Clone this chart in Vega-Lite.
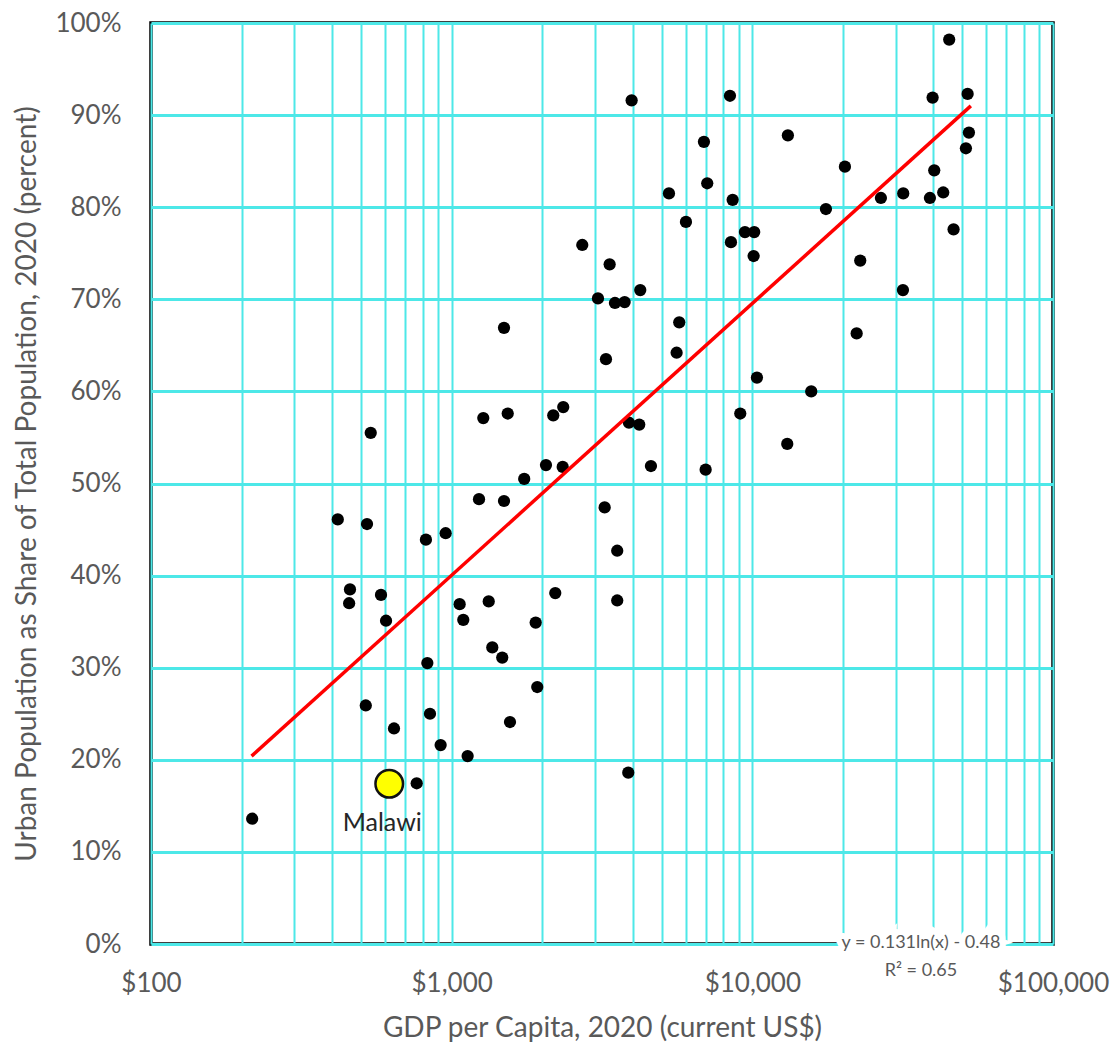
{
  "$schema": "https://vega.github.io/schema/vega-lite/v6.json",
  "width": 902,
  "height": 921,
  "autosize": {"type": "none"},
  "padding": {"left": 151, "top": 23, "right": 61, "bottom": 103},
  "background": "white",
  "config": {
    "font": "Lato",
    "view": {"stroke": "#000000", "strokeWidth": 3.5, "strokeOpacity": 1},
    "axis": {
      "gridColor": "#4DE8E8",
      "gridOpacity": 1,
      "ticks": false,
      "domain": false,
      "labelColor": "#595959",
      "labelFontSize": 26,
      "labelFont": "Lato",
      "titleColor": "#595959",
      "titleFont": "Lato",
      "titleFontWeight": "normal",
      "labelOverlap": false,
      "labelFlush": false
    }
  },
  "datasets": {
    "countries": [
      {"gdp": 217, "share": 0.136},
      {"gdp": 620, "share": 0.174, "country": "Malawi"},
      {"gdp": 765, "share": 0.1745},
      {"gdp": 1130, "share": 0.204},
      {"gdp": 919, "share": 0.216},
      {"gdp": 643, "share": 0.234},
      {"gdp": 847, "share": 0.25},
      {"gdp": 1563, "share": 0.241},
      {"gdp": 518, "share": 0.259},
      {"gdp": 1926, "share": 0.279},
      {"gdp": 830, "share": 0.305},
      {"gdp": 1473, "share": 0.311},
      {"gdp": 1365, "share": 0.322},
      {"gdp": 1903, "share": 0.349},
      {"gdp": 605, "share": 0.351},
      {"gdp": 1093, "share": 0.352},
      {"gdp": 456, "share": 0.37},
      {"gdp": 1063, "share": 0.369},
      {"gdp": 1328, "share": 0.372},
      {"gdp": 459, "share": 0.385},
      {"gdp": 582, "share": 0.379},
      {"gdp": 2211, "share": 0.381},
      {"gdp": 821, "share": 0.439},
      {"gdp": 955, "share": 0.446},
      {"gdp": 418, "share": 0.461},
      {"gdp": 523, "share": 0.456},
      {"gdp": 1233, "share": 0.483},
      {"gdp": 1493, "share": 0.481},
      {"gdp": 1743, "share": 0.505},
      {"gdp": 2059, "share": 0.52},
      {"gdp": 2340, "share": 0.518},
      {"gdp": 3227, "share": 0.474},
      {"gdp": 3553, "share": 0.427},
      {"gdp": 3553, "share": 0.373},
      {"gdp": 3867, "share": 0.186},
      {"gdp": 2719, "share": 0.759},
      {"gdp": 1493, "share": 0.669},
      {"gdp": 1274, "share": 0.571},
      {"gdp": 1536, "share": 0.576},
      {"gdp": 2177, "share": 0.574},
      {"gdp": 2350, "share": 0.583},
      {"gdp": 538, "share": 0.555},
      {"gdp": 3968, "share": 0.916},
      {"gdp": 8425, "share": 0.921},
      {"gdp": 45160, "share": 0.982},
      {"gdp": 39770, "share": 0.919},
      {"gdp": 52000, "share": 0.923},
      {"gdp": 6903, "share": 0.871},
      {"gdp": 13130, "share": 0.878},
      {"gdp": 52530, "share": 0.881},
      {"gdp": 51330, "share": 0.864},
      {"gdp": 7079, "share": 0.826},
      {"gdp": 20320, "share": 0.844},
      {"gdp": 40270, "share": 0.84},
      {"gdp": 5281, "share": 0.815},
      {"gdp": 8600, "share": 0.808},
      {"gdp": 26770, "share": 0.81},
      {"gdp": 31760, "share": 0.815},
      {"gdp": 38960, "share": 0.81},
      {"gdp": 43140, "share": 0.816},
      {"gdp": 17570, "share": 0.798},
      {"gdp": 6015, "share": 0.784},
      {"gdp": 46700, "share": 0.776},
      {"gdp": 9450, "share": 0.773},
      {"gdp": 10146, "share": 0.773},
      {"gdp": 8489, "share": 0.762},
      {"gdp": 10099, "share": 0.747},
      {"gdp": 22850, "share": 0.742},
      {"gdp": 3353, "share": 0.738},
      {"gdp": 31690, "share": 0.71},
      {"gdp": 4239, "share": 0.71},
      {"gdp": 3066, "share": 0.701},
      {"gdp": 3492, "share": 0.696},
      {"gdp": 3761, "share": 0.697},
      {"gdp": 5713, "share": 0.675},
      {"gdp": 3260, "share": 0.635},
      {"gdp": 5600, "share": 0.642},
      {"gdp": 22230, "share": 0.663},
      {"gdp": 10359, "share": 0.615},
      {"gdp": 15700, "share": 0.6},
      {"gdp": 9117, "share": 0.576},
      {"gdp": 3887, "share": 0.566},
      {"gdp": 4206, "share": 0.564},
      {"gdp": 13065, "share": 0.543},
      {"gdp": 4600, "share": 0.519},
      {"gdp": 6994, "share": 0.515}
    ],
    "trend": [
      {"gdp": 216, "share": 0.204},
      {"gdp": 53300, "share": 0.91}
    ],
    "notes": [
      {"gdp": 36370, "share": 0.0014, "label": "y = 0.131ln(x) - 0.48"},
      {"gdp": 36370, "share": -0.029, "label": "R² = 0.65"}
    ]
  },
  "layer": [
    {
      "data": {"name": "countries"},
      "transform": [{"filter": "datum.country !== 'Malawi'"}],
      "mark": {"type": "point", "filled": true, "color": "#000000", "size": 150, "opacity": 1},
      "encoding": {
        "x": {
          "field": "gdp",
          "type": "quantitative",
          "scale": {"type": "log", "domain": [100, 100000], "nice": false},
          "axis": {
            "values": [100, 200, 300, 400, 500, 600, 700, 800, 900, 1000, 2000, 3000, 4000, 5000, 6000, 7000, 8000, 9000, 10000, 20000, 30000, 40000, 50000, 60000, 70000, 80000, 90000, 100000],
            "labelExpr": "(datum.value == 100 || datum.value == 1000 || datum.value == 10000 || datum.value == 100000) ? '$' + format(datum.value, ',') : ''",
            "gridWidth": 2,
            "labelPadding": 26,
            "title": "GDP per Capita, 2020 (current US$)",
            "titleFontSize": 28,
            "titlePadding": 18
          }
        },
        "y": {
          "field": "share",
          "type": "quantitative",
          "scale": {"domain": [0, 1], "nice": false, "zero": false},
          "axis": {
            "values": [0, 0.1, 0.2, 0.3, 0.4, 0.5, 0.6, 0.7, 0.8, 0.9, 1],
            "format": ".0%",
            "gridWidth": 3,
            "labelPadding": 30,
            "title": "Urban Population as Share of Total Population, 2020 (percent)",
            "titleFontSize": 28,
            "titlePadding": 13
          }
        }
      }
    },
    {
      "data": {"name": "trend"},
      "mark": {"type": "line", "color": "#FF0000", "strokeWidth": 3.5},
      "encoding": {
        "x": {"field": "gdp", "type": "quantitative"},
        "y": {"field": "share", "type": "quantitative"}
      }
    },
    {
      "data": {"name": "countries"},
      "transform": [{"filter": "datum.country === 'Malawi'"}],
      "mark": {"type": "point", "filled": true, "color": "#FFFF00", "stroke": "#111111", "strokeWidth": 2.5, "size": 760, "opacity": 1},
      "encoding": {
        "x": {"field": "gdp", "type": "quantitative"},
        "y": {"field": "share", "type": "quantitative"}
      }
    },
    {
      "data": {"name": "countries"},
      "transform": [{"filter": "datum.country === 'Malawi'"}],
      "mark": {"type": "text", "font": "Lato", "fontSize": 25, "color": "#262626", "dx": -7, "dy": 39, "align": "center", "baseline": "middle"},
      "encoding": {
        "x": {"field": "gdp", "type": "quantitative"},
        "y": {"field": "share", "type": "quantitative"},
        "text": {"field": "country"}
      }
    },
    {
      "data": {"name": "notes"},
      "mark": {"type": "text", "font": "Lato", "fontSize": 18, "fill": "#FFFFFF", "stroke": "#FFFFFF", "strokeWidth": 12, "align": "center", "baseline": "middle"},
      "encoding": {
        "x": {"field": "gdp", "type": "quantitative"},
        "y": {"field": "share", "type": "quantitative"},
        "text": {"field": "label"}
      }
    },
    {
      "data": {"name": "notes"},
      "mark": {"type": "text", "font": "Lato", "fontSize": 18, "color": "#595959", "align": "center", "baseline": "middle"},
      "encoding": {
        "x": {"field": "gdp", "type": "quantitative"},
        "y": {"field": "share", "type": "quantitative"},
        "text": {"field": "label"}
      }
    }
  ]
}
